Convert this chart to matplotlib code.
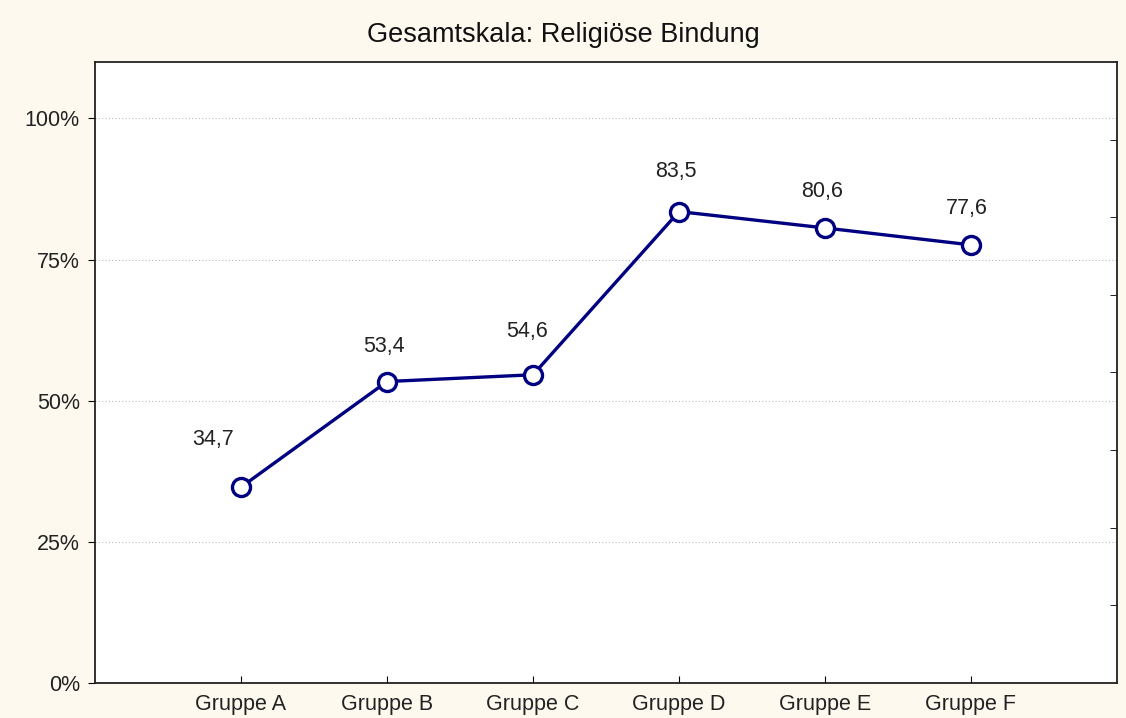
import numpy as np
import matplotlib.pyplot as plt
from matplotlib.ticker import FixedLocator

plt.rcParams['font.family'] = ['Liberation Sans', 'DejaVu Sans']

# data
groups = ['Gruppe A', 'Gruppe B', 'Gruppe C', 'Gruppe D', 'Gruppe E', 'Gruppe F']
values = [34.7, 53.4, 54.6, 83.5, 80.6, 77.6]
labels = ['34,7', '53,4', '54,6', '83,5', '80,6', '77,6']
yticks = [0, 25, 50, 75, 100]

# label offsets in points (dx, dy), style only
label_offsets = [(-20, 34), (-2, 25), (-4, 31), (-2, 29), (-2, 26), (-3, 26)]

fig = plt.figure(figsize=(11.26, 7.18), dpi=100, facecolor='#fdf9ef')
ax = fig.add_axes([0.0844, 0.0487, 0.9076, 0.865])
ax.set_facecolor('white')

x = np.arange(1, len(groups) + 1)
ax.plot(x, values, color='#000080', linewidth=2.4, marker='o', markersize=13,
        markerfacecolor='white', markeredgecolor='#000080', markeredgewidth=2.4, zorder=3)

for xi, v, lab, off in zip(x, values, labels, label_offsets):
    ax.annotate(lab, (xi, v), xytext=off, textcoords='offset points',
                ha='center', va='center', fontsize=15.5, color='#222222')

ax.set_xlim(0, 7)
ax.set_ylim(0, 110)
ax.set_xticks(x)
ax.set_xticklabels(groups, fontsize=15.5, color='#222222')
ax.set_yticks(yticks)
ax.set_yticklabels([f'{t}%' for t in yticks], fontsize=15.5, color='#222222')
ax.tick_params(axis='x', direction='in', length=5, pad=8)
ax.tick_params(axis='y', direction='out', length=5, pad=6, right=False)

# right side ticks, inward, no labels
ax.yaxis.set_minor_locator(FixedLocator(np.arange(1, 8) * 110 / 8))
ax.tick_params(axis='y', which='minor', left=False, right=True, direction='in', length=5)

ax.grid(axis='y', linestyle=(0, (1, 2)), color='#bbbbbb', linewidth=0.8)
ax.set_axisbelow(True)
for s in ax.spines.values():
    s.set_linewidth(1.3)
    s.set_color('#222222')

fig.text(0.5, 1 - 35 / 718, 'Gesamtskala: Religiöse Bindung', fontsize=19.5,
         ha='center', va='center', color='#111111')

fig.savefig('out.png', dpi=100, facecolor=fig.get_facecolor())
